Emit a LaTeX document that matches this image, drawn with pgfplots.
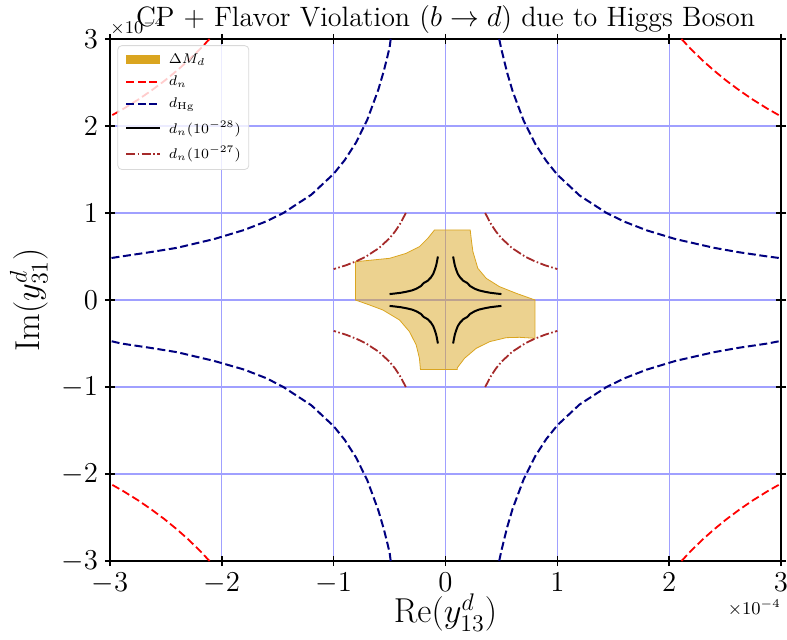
\documentclass[border=0pt]{standalone}
\usepackage{pgfplots}
\pgfplotsset{compat=1.18}
\definecolor{gold}{RGB}{218,165,32}
\definecolor{navyc}{RGB}{0,0,128}
\definecolor{brownc}{RGB}{165,42,42}
\definecolor{gridb}{RGB}{160,160,255}

\begin{document}
\begin{tikzpicture}
\begin{axis}[
  scale only axis,
  width=335.5pt, height=261pt,
  xmin=-3, xmax=3, ymin=-3, ymax=3,
  clip mode=individual,
  xtick={-3,-2,-1,0,1,2,3}, ytick={-3,-2,-1,0,1,2,3},
  xtick pos=both, ytick pos=both,
  tick align=center,
  major tick length=5pt,
  tick style={black, line width=0.7pt},
  axis line style={line width=0.8pt},
  grid=major, grid style={gridb, line width=0.6pt},
  tick label style={font=\fontsize{14}{16}\selectfont},
  xlabel={$\mathrm{Re}(y^d_{13})$},
  ylabel={$\mathrm{Im}(y^d_{31})$},
  label style={font=\fontsize{17}{20}\selectfont},
  xlabel style={yshift=7pt},
  title={CP + Flavor Violation ($b\to d$) due to Higgs Boson},
  title style={font=\fontsize{14}{16}\selectfont, yshift=-7pt},
  legend cell align=left,
  legend style={at={(axis description cs:0.011,0.988)}, anchor=north west,
    font=\fontsize{7}{8}\selectfont, fill=white, fill opacity=0.8,
    text opacity=1, draw=gray!30, rounded corners=2pt, row sep=0.8pt,
    inner xsep=2pt},
  legend image code/.code={\draw[#1] (0pt,0pt) -- (17pt,0pt);},
]
% Delta M_d allowed region
\addplot[fill=gold, fill opacity=0.5, draw=gold, line width=0.4pt, forget plot] coordinates {
  (-0.805,0.0) (-0.805,0.44) (-0.65,0.46) (-0.5,0.479) (-0.352,0.536)
  (-0.233,0.613) (-0.158,0.709) (-0.098,0.805) (0.221,0.805) (0.232,0.68)
  (0.245,0.556) (0.289,0.364) (0.364,0.249) (0.483,0.153) (0.632,0.077)
  (0.80,0.0) (0.80,-0.44) (0.662,-0.429) (0.543,-0.433) (0.394,-0.479)
  (0.274,-0.556) (0.17,-0.67) (0.105,-0.78) (0.105,-0.80) (-0.224,-0.80)
  (-0.233,-0.67) (-0.262,-0.517) (-0.322,-0.364) (-0.411,-0.23)
  (-0.56,-0.115) (-0.68,-0.057) (-0.805,0.0)} -- cycle;
\addlegendimage{gold, line width=4.5pt}
\addlegendentry{$\Delta M_d$}

% d_n
\addplot[red, line width=0.9pt, dash pattern=on 4pt off 1.8pt] coordinates {
  (2.11,3.0) (2.2,2.877) (2.3,2.752) (2.4,2.638) (2.516,2.516)
  (2.638,2.4) (2.752,2.3) (2.877,2.2) (3.0,2.11)};
\addlegendentry{$d_n$}
\addplot[red, line width=0.9pt, dash pattern=on 4pt off 1.8pt, forget plot] coordinates {
  (-2.11,3.0) (-2.2,2.877) (-2.3,2.752) (-2.4,2.638) (-2.516,2.516)
  (-2.638,2.4) (-2.752,2.3) (-2.877,2.2) (-3.0,2.11)};
\addplot[red, line width=0.9pt, dash pattern=on 4pt off 1.8pt, forget plot] coordinates {
  (-2.11,-3.0) (-2.2,-2.877) (-2.3,-2.752) (-2.4,-2.638) (-2.516,-2.516)
  (-2.638,-2.4) (-2.752,-2.3) (-2.877,-2.2) (-3.0,-2.11)};
\addplot[red, line width=0.9pt, dash pattern=on 4pt off 1.8pt, forget plot] coordinates {
  (2.11,-3.0) (2.2,-2.877) (2.3,-2.752) (2.4,-2.638) (2.516,-2.516)
  (2.638,-2.4) (2.752,-2.3) (2.877,-2.2) (3.0,-2.11)};

% d_Hg
\addplot[navyc, line width=1pt, dash pattern=on 4pt off 1.8pt] coordinates {
  (0.48,3.0) (0.5,2.88) (0.55,2.618) (0.6,2.4) (0.7,2.057) (0.8,1.8)
  (0.9,1.6) (1.0,1.44) (1.2,1.2) (1.44,1.0) (1.6,0.9) (1.8,0.8)
  (2.057,0.7) (2.4,0.6) (2.618,0.55) (2.88,0.5) (3.0,0.48)};
\addlegendentry{$d_{\mathrm{Hg}}$}
\addplot[navyc, line width=1pt, dash pattern=on 4pt off 1.8pt, forget plot] coordinates {
  (-0.49,3.0) (-0.5,2.9) (-0.55,2.64) (-0.6,2.42) (-0.7,2.07) (-0.8,1.81)
  (-0.9,1.61) (-1.0,1.45) (-1.2,1.21) (-1.45,1.0) (-1.6,0.905) (-1.8,0.805)
  (-2.07,0.7) (-2.4,0.6) (-2.64,0.55) (-2.9,0.5) (-3.0,0.48)};
\addplot[navyc, line width=1pt, dash pattern=on 4pt off 1.8pt, forget plot] coordinates {
  (-0.49,-3.0) (-0.5,-2.9) (-0.55,-2.64) (-0.6,-2.42) (-0.7,-2.07) (-0.8,-1.81)
  (-0.9,-1.61) (-1.0,-1.45) (-1.2,-1.21) (-1.45,-1.0) (-1.6,-0.9) (-1.8,-0.8)
  (-2.07,-0.7) (-2.4,-0.6) (-2.64,-0.55) (-2.9,-0.5) (-3.0,-0.47)};
\addplot[navyc, line width=1pt, dash pattern=on 4pt off 1.8pt, forget plot] coordinates {
  (0.48,-3.0) (0.5,-2.88) (0.55,-2.618) (0.6,-2.4) (0.7,-2.057) (0.8,-1.8)
  (0.9,-1.6) (1.0,-1.44) (1.2,-1.2) (1.44,-1.0) (1.6,-0.9) (1.8,-0.8)
  (2.057,-0.7) (2.4,-0.6) (2.618,-0.55) (2.88,-0.5) (3.0,-0.47)};

% d_n (1e-28)
\addplot[black, line width=1pt] coordinates {
  (-0.5,0.068) (-0.45,0.075) (-0.4,0.083) (-0.35,0.095) (-0.3,0.11)
  (-0.26,0.13) (-0.22,0.16) (-0.195,0.195) (-0.16,0.22) (-0.13,0.26)
  (-0.11,0.3) (-0.095,0.35) (-0.083,0.4) (-0.075,0.45) (-0.068,0.5)};
\addlegendentry{$d_n(10^{-28})$}
\addplot[black, line width=1pt, forget plot] coordinates {
  (0.5,0.068) (0.45,0.075) (0.4,0.083) (0.35,0.095) (0.3,0.11)
  (0.26,0.13) (0.22,0.16) (0.195,0.195) (0.16,0.22) (0.13,0.26)
  (0.11,0.3) (0.095,0.35) (0.083,0.4) (0.075,0.45) (0.068,0.5)};
\addplot[black, line width=1pt, forget plot] coordinates {
  (-0.5,-0.068) (-0.45,-0.075) (-0.4,-0.083) (-0.35,-0.095) (-0.3,-0.11)
  (-0.26,-0.13) (-0.22,-0.16) (-0.195,-0.195) (-0.16,-0.22) (-0.13,-0.26)
  (-0.11,-0.3) (-0.095,-0.35) (-0.083,-0.4) (-0.075,-0.45) (-0.068,-0.5)};
\addplot[black, line width=1pt, forget plot] coordinates {
  (0.5,-0.068) (0.45,-0.075) (0.4,-0.083) (0.35,-0.095) (0.3,-0.11)
  (0.26,-0.13) (0.22,-0.16) (0.195,-0.195) (0.16,-0.22) (0.13,-0.26)
  (0.11,-0.3) (0.095,-0.35) (0.083,-0.4) (0.075,-0.45) (0.068,-0.5)};

% d_n (1e-27)
\addplot[brownc, line width=0.9pt, dash pattern=on 4.5pt off 1.2pt on 0.8pt off 1.2pt] coordinates {
  (-0.355,1.0) (-0.4,0.8875) (-0.45,0.789) (-0.5,0.71) (-0.596,0.596)
  (-0.71,0.5) (-0.789,0.45) (-0.8875,0.4) (-1.0,0.355)};
\addlegendentry{$d_n(10^{-27})$}
\addplot[brownc, line width=0.9pt, dash pattern=on 4.5pt off 1.2pt on 0.8pt off 1.2pt, forget plot] coordinates {
  (0.355,1.0) (0.4,0.8875) (0.45,0.789) (0.5,0.71) (0.596,0.596)
  (0.71,0.5) (0.789,0.45) (0.8875,0.4) (1.0,0.355)};
\addplot[brownc, line width=0.9pt, dash pattern=on 4.5pt off 1.2pt on 0.8pt off 1.2pt, forget plot] coordinates {
  (-0.355,-1.0) (-0.4,-0.8875) (-0.45,-0.789) (-0.5,-0.71) (-0.596,-0.596)
  (-0.71,-0.5) (-0.789,-0.45) (-0.8875,-0.4) (-1.0,-0.355)};
\addplot[brownc, line width=0.9pt, dash pattern=on 4.5pt off 1.2pt on 0.8pt off 1.2pt, forget plot] coordinates {
  (0.355,-1.0) (0.4,-0.8875) (0.45,-0.789) (0.5,-0.71) (0.596,-0.596)
  (0.71,-0.5) (0.789,-0.45) (0.8875,-0.4) (1.0,-0.355)};

\node[anchor=south west, inner sep=0pt, font=\fontsize{9}{10}\selectfont]
  at (rel axis cs:0,1) [yshift=1.5pt] {$\times10^{-4}$};
\node[anchor=east, inner sep=0pt, font=\fontsize{9}{10}\selectfont]
  at (rel axis cs:1,0) [yshift=-23.5pt] {$\times10^{-4}$};
\end{axis}
\pgfresetboundingbox
\path[use as bounding box] ([shift={(-55pt,-39pt)}]current axis.south west)
  rectangle ([shift={(3pt,19.5pt)}]current axis.north east);
\end{tikzpicture}
\end{document}
